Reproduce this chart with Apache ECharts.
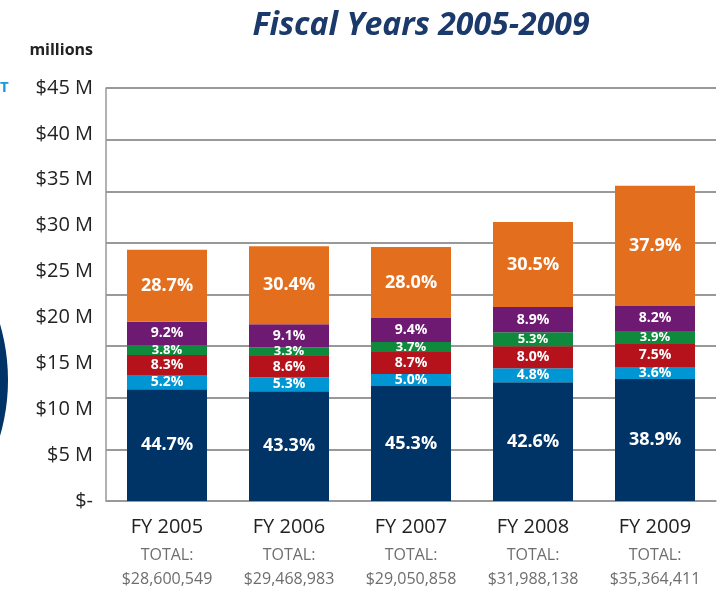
<!DOCTYPE html>
<html>
<head>
<meta charset="utf-8">
<script src="https://cdn.jsdelivr.net/npm/echarts@6/dist/echarts.min.js"></script>
<style>
    html, body { margin: 0; padding: 0; background: #fff; }
    #main { width: 727px; height: 590px; }
</style>
</head>
<body>
<div id="main"></div>
<script>
const years = ['FY 2005', 'FY 2006', 'FY 2007', 'FY 2008', 'FY 2009']
const totals = ['$28,600,549', '$29,468,983', '$29,050,858', '$31,988,138', '$35,364,411']
const yTicks = ['$-', '$5 M', '$10 M', '$15 M', '$20 M', '$25 M', '$30 M', '$35 M', '$40 M', '$45 M']

// segment heights in $ millions as drawn, bottom to top
const navy = [12.17, 11.95, 12.53, 12.93, 13.29]
const cyan = [1.56, 1.53, 1.31, 1.53, 1.31]
const red = [2.18, 2.32, 2.40, 2.40, 2.51]
const green = [1.09, 0.95, 1.09, 1.53, 1.42]
const purple = [2.54, 2.51, 2.61, 2.76, 2.72]
const orange = [7.84, 8.50, 7.74, 9.26, 13.11]

// percentage labels
const navyPct = ['44.7%', '43.3%', '45.3%', '42.6%', '38.9%']
const cyanPct = ['5.2%', '5.3%', '5.0%', '4.8%', '3.6%']
const redPct = ['8.3%', '8.6%', '8.7%', '8.0%', '7.5%']
const greenPct = ['3.8%', '3.3%', '3.7%', '5.3%', '3.9%']
const purplePct = ['9.2%', '9.1%', '9.4%', '8.9%', '8.2%']
const orangePct = ['28.7%', '30.4%', '28.0%', '30.5%', '37.9%']

const FONT = '"Open Sans", "Noto Sans", sans-serif'

const chartDom = document.getElementById('main')
const myChart = echarts.init(chartDom)

function seg(name, data, pct, color, size) {
    return {
        name,
        type: 'bar',
        stack: 'total',
        yAxisIndex: 0,
        barWidth: 80,
        data,
        itemStyle: { color },
        label: {
            show: true,
            position: 'inside',
            formatter: p => pct[p.dataIndex],
            color: '#fff',
            fontWeight: 'bold',
            fontFamily: FONT,
            fontSize: size
        }
    }
}

const option = {
    animation: false,
    grid: { left: 106, right: 11, top: 88, bottom: 89 },
    graphic: [
        {
            type: 'text',
            x: 421, y: 26,
            style: {
                text: 'Fiscal Years 2005-2009',
                align: 'center', verticalAlign: 'middle',
                font: 'italic bold 32px ' + FONT,
                fill: '#1b3a6b'
            }
        },
        {
            type: 'text',
            style: {
                text: 'millions', x: 93, y: 50,
                align: 'right', verticalAlign: 'middle',
                font: 'bold 16px ' + FONT, fill: '#222'
            }
        },
        {
            type: 'text',
            style: {
                text: 'T', x: 0, y: 88,
                align: 'left', verticalAlign: 'middle',
                font: 'bold 15px ' + FONT, fill: '#1a9ad6'
            }
        },
        {
            type: 'circle',
            shape: { cx: -192, cy: 380, r: 200 },
            style: { fill: '#003366' }
        }
    ],
    xAxis: {
        type: 'category',
        data: years,
        axisTick: { show: false },
        axisLine: { lineStyle: { color: '#999', width: 1.5 } },
        axisLabel: {
            margin: 10,
            formatter: (v, i) => `{fy|${v}}\n{t|TOTAL:}\n{t|${totals[i]}}`,
            rich: {
                fy: { fontSize: 20, color: '#222', lineHeight: 32, fontFamily: FONT },
                t: { fontSize: 16, color: '#6e6e6e', lineHeight: 24, fontFamily: FONT }
            }
        }
    },
    yAxis: [
        {
            type: 'value',
            min: 0, max: 45, interval: 5,
            axisLine: { show: true, lineStyle: { color: '#999', width: 1.5 } },
            axisTick: { show: false },
            splitLine: { show: false },
            axisLabel: {
                margin: 13,
                formatter: v => yTicks[Math.round(v / 5)],
                fontSize: 20, color: '#222', fontFamily: FONT
            }
        },
        {
            type: 'value',
            position: 'left',
            min: 0, max: 8, interval: 1,
            axisLine: { show: false },
            axisTick: { show: false },
            axisLabel: { show: false },
            splitLine: { lineStyle: { color: '#777', width: 1.5 } }
        }
    ],
    series: [
        seg('Navy', navy, navyPct, '#003366', 18),
        seg('Cyan', cyan, cyanPct, '#0095d3', 14),
        seg('Red', red, redPct, '#b5121b', 14),
        seg('Green', green, greenPct, '#0f8a3c', 13),
        seg('Purple', purple, purplePct, '#6e1a72', 14),
        seg('Orange', orange, orangePct, '#e36f1e', 18)
    ]
}

myChart.setOption(option)
</script>
</body>
</html>
